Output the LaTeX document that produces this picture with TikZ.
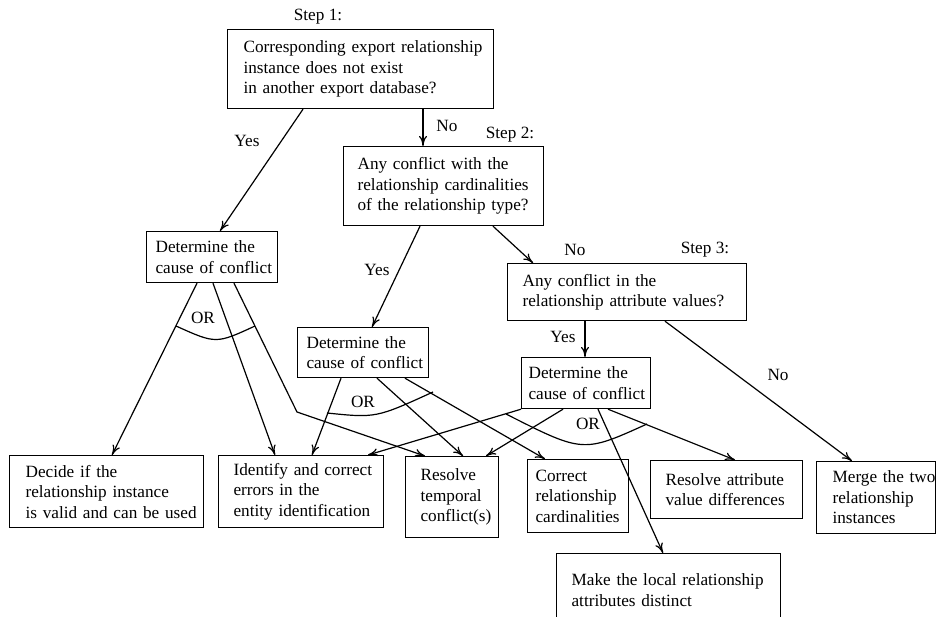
\documentclass[tikz,border=0pt]{standalone}
\usepackage{fontspec}
\setmainfont{Liberation Serif}
\usetikzlibrary{arrows.meta}
\begin{document}
\begin{tikzpicture}[x=1pt,y=-1pt,
  every node/.style={font=\fontsize{17.2}{20.5}\selectfont},
  box/.style={draw, line width=1.2pt, anchor=north west, align=left, inner ysep=0pt},
  lbl/.style={inner sep=0pt},
  arr/.style={line width=1.2pt, -{To[length=10pt,width=8pt]}},
  ln/.style={line width=1.2pt}]
\useasboundingbox (0,0) rectangle (936,616);

% question boxes
\node[box, minimum width=266pt, minimum height=79pt, text width=234pt, inner xsep=16pt] (s1) at (227,29)
  {\mbox{Corresponding export relationship}\\\mbox{instance does not exist}\\\mbox{in another export database?}};
\node[box, minimum width=200pt, minimum height=79pt, text width=172pt, inner xsep=14pt] (s2) at (343,146)
  {\mbox{Any conflict with the}\\\mbox{relationship cardinalities}\\\mbox{of the relationship type?}};
\node[box, minimum width=239pt, minimum height=57pt, text width=209pt, inner xsep=15pt] (s3) at (507,263)
  {\mbox{Any conflict in the}\\\mbox{relationship attribute values?}};

% determine boxes
\node[box, minimum width=131pt, minimum height=51pt, text width=113pt, inner xsep=9pt] (d1) at (146,231)
  {\mbox{Determine the}\\\mbox{cause of conflict}};
\node[box, minimum width=131pt, minimum height=50pt, text width=113pt, inner xsep=9pt] (d2) at (297,327)
  {\mbox{Determine the}\\\mbox{cause of conflict}};
\node[box, minimum width=129pt, minimum height=51pt, text width=115pt, inner xsep=7pt] (d3) at (521,357)
  {\mbox{Determine the}\\\mbox{cause of conflict}};

% result boxes
\node[box, minimum width=194pt, minimum height=72pt, text width=162pt, inner xsep=16pt] (A) at (9,455)
  {\mbox{Decide if the}\\\mbox{relationship instance}\\\mbox{is valid and can be used}};
\node[box, minimum width=165pt, minimum height=72pt, text width=135pt, inner xsep=15pt] (B) at (218,455)
  {\mbox{Identify and correct}\\\mbox{errors in the}\\\mbox{entity identification}};
\node[box, minimum width=93pt, minimum height=81pt, text width=63pt, inner xsep=15pt] (C) at (405,456)
  {\mbox{Resolve}\\\mbox{temporal}\\\mbox{conflict(s)}};
\node[box, minimum width=101pt, minimum height=73pt, text width=85pt, inner xsep=8pt] (D) at (527,459)
  {\mbox{Correct}\\\mbox{relationship}\\\mbox{cardinalities}};
\node[box, minimum width=152pt, minimum height=58pt, text width=122pt, inner xsep=15pt] (E) at (650,460)
  {\mbox{Resolve attribute}\\\mbox{value differences}};
\node[box, minimum width=119pt, minimum height=72pt, text width=87pt, inner xsep=16pt] (F) at (816,461)
  {\mbox{Merge the two}\\\mbox{relationship}\\\mbox{instances}};
\node[box, minimum width=224pt, minimum height=73pt, text width=194pt, inner xsep=15pt] (G) at (556,553)
  {\mbox{Make the local relationship}\\\mbox{attributes distinct}};

% labels
\node[lbl] (st1) at (318,17) {Step 1:};
\node[lbl] (st2) at (510,135) {Step 2:};
\node[lbl] (st3) at (705,250) {Step 3:};
\node[lbl] (y1) at (247,141) {Yes};
\node[lbl] (n1) at (447,126) {No};
\node[lbl] (y2) at (377,270) {Yes};
\node[lbl] (n2) at (575,250) {No};
\node[lbl] (y3) at (563,337) {Yes};
\node[lbl] (n3) at (778,375) {No};
\node[lbl] (or1) at (203,318) {OR};
\node[lbl] (or2) at (363,402) {OR};
\node[lbl] (or3) at (588,424) {OR};

% main flow
\draw[arr] ([xshift=76pt]s1.south west) -- ([xshift=74pt]d1.north west);
\draw[arr] ([xshift=196pt]s1.south west) -- ([xshift=80pt]s2.north west);
\draw[arr] ([xshift=77pt]s2.south west) -- ([xshift=75pt]d2.north west);
\draw[arr] ([xshift=150pt]s2.south west) -- ([xshift=26pt]s3.north west);
\draw[arr] ([xshift=78pt]s3.south west) -- ([xshift=64pt]d3.north west);
\draw[arr] ([xshift=158pt]s3.south west) -- ([xshift=36pt]F.north west);

% from d1
\coordinate (k1) at (297,412);
\draw[arr] ([xshift=51pt]d1.south west) -- ([xshift=103pt]A.north west);
\draw[arr] ([xshift=67pt]d1.south west) -- ([xshift=57pt]B.north west);
\draw[arr] ([xshift=88pt]d1.south west) -- (k1) -- ([xshift=20pt]C.north west);
\draw[ln] (176,326) .. controls (216,344) .. (255,326);

% from d2
\draw[arr] ([xshift=44pt]d2.south west) -- ([xshift=94pt]B.north west);
\draw[arr] ([xshift=80pt]d2.south west) -- ([xshift=58pt]C.north west);
\draw[arr] ([xshift=108pt]d2.south west) -- ([xshift=18pt]D.north west);
\draw[ln] (327,413) .. controls (376,418) .. (433,392);

% from d3
\draw[arr] (d3.south west) -- ([xshift=150pt]B.north west);
\draw[arr] ([xshift=42pt]d3.south west) -- ([xshift=81pt]C.north west);
\draw[arr] ([xshift=77pt]d3.south west) -- ([xshift=107pt]G.north west);
\draw[arr] ([xshift=87pt]d3.south west) -- ([xshift=85pt]E.north west);
\draw[ln] (506,414) .. controls (583,453) .. (647,424);
\end{tikzpicture}
\end{document}
